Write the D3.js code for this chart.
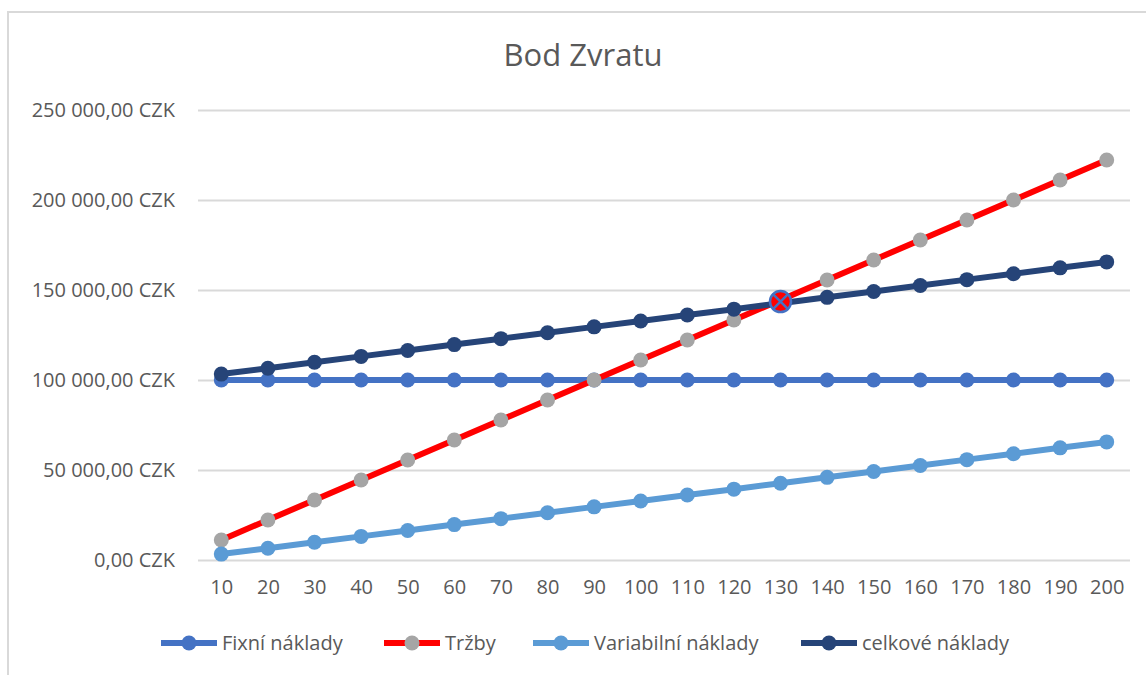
<!DOCTYPE html>
<html>
<head>
<meta charset="utf-8">
<script src="https://cdn.jsdelivr.net/npm/d3@7"></script>
<style>
  body { margin: 0; background: white; }
  text { font-family: "Open Sans", sans-serif; fill: #595959; }
</style>
</head>
<body>
<svg id="chart" width="1146" height="675"></svg>
<script>
// categories (quantity)
var categories = [10,20,30,40,50,60,70,80,90,100,110,120,130,140,150,160,170,180,190,200];

// series values
var fixni = [100000,100000,100000,100000,100000,100000,100000,100000,100000,100000,
             100000,100000,100000,100000,100000,100000,100000,100000,100000,100000];
var trzby = [11111,22222,33333,44444,55556,66667,77778,88889,100000,111111,
             122222,133333,144444,155556,166667,177778,188889,200000,211111,222222];
var variabilni = [3280,6560,9840,13120,16400,19680,22960,26240,29520,32800,
                  36080,39360,42640,45920,49200,52480,55760,59040,62320,65600];
var celkove = [103280,106560,109840,113120,116400,119680,122960,126240,129520,132800,
               136080,139360,142640,145920,149200,152480,155760,159040,162320,165600];

var yTicks = [0,50000,100000,150000,200000,250000];
var breakEvenAt = 130;

var series = [
  {name: "Fixní náklady", values: fixni, line: "#4472C4", marker: "#4472C4"},
  {name: "Tržby", values: trzby, line: "#FF0000", marker: "#A5A5A5"},
  {name: "Variabilní náklady", values: variabilni, line: "#5B9BD5", marker: "#5B9BD5"},
  {name: "celkové náklady", values: celkove, line: "#264478", marker: "#264478"}
];

var svg = d3.select("#chart");

// chart border (Excel chart area)
svg.append("path")
  .attr("d", "M8,675 V12 H1146")
  .attr("fill", "none")
  .attr("stroke", "#D9D9D9")
  .attr("stroke-width", 2);

var x = d3.scalePoint().domain(categories).range([198, 1130]).padding(0.5);
var y = d3.scaleLinear().domain([0, 250000]).range([560, 110]);

var cz = d3.formatLocale({decimal: ",", thousands: " ", grouping: [3], currency: ["", " CZK"]});
var fmt = cz.format("$,.2f");

// y axis with gridlines
var yAxis = svg.append("g")
  .attr("transform", "translate(198,0)")
  .call(d3.axisLeft(y).tickValues(yTicks).tickFormat(fmt).tickSize(-932).tickPadding(23));
yAxis.select(".domain").remove();
yAxis.selectAll(".tick line").attr("stroke", "#D9D9D9").attr("stroke-width", 2);
yAxis.selectAll(".tick text").style("font-size", "20px").style("fill", "#595959")
  .style("font-family", "Open Sans");

// x axis
var xAxis = svg.append("g")
  .attr("transform", "translate(0,560)")
  .call(d3.axisBottom(x).tickSize(0).tickPadding(20));
xAxis.select(".domain").remove();
xAxis.selectAll(".tick text").style("font-size", "20px").style("fill", "#595959")
  .style("font-family", "Open Sans");

// title
svg.append("text")
  .attr("x", 583).attr("y", 66)
  .attr("text-anchor", "middle")
  .style("font-size", "31px")
  .text("Bod Zvratu");

var line = d3.line()
  .x(function(d, i) { return x(categories[i]); })
  .y(function(d) { return y(d); });

series.forEach(function(s) {
  var g = svg.append("g");
  g.append("path")
    .attr("d", line(s.values))
    .attr("fill", "none")
    .attr("stroke", s.line)
    .attr("stroke-width", 6)
    .attr("stroke-linejoin", "round");
  g.selectAll("circle").data(s.values).enter().append("circle")
    .attr("cx", function(d, i) { return x(categories[i]); })
    .attr("cy", function(d) { return y(d); })
    .attr("r", 7.5)
    .attr("fill", s.marker);
});

// break-even marker
var bi = categories.indexOf(breakEvenAt);
var bx = x(breakEvenAt), by = y((trzby[bi] + celkove[bi]) / 2);
var be = svg.append("g").attr("transform", "translate(" + bx + "," + by + ")");
be.append("circle").attr("r", 10.5).attr("fill", "#FF0000")
  .attr("stroke", "#4472C4").attr("stroke-width", 2.5);
be.append("path").attr("d", "M-7,-7L7,7M7,-7L-7,7")
  .attr("stroke", "#4472C4").attr("stroke-width", 2.5);

// legend
var legendX = [161, 384, 533, 801];
var legend = svg.append("g").attr("transform", "translate(0,643)");
series.forEach(function(s, i) {
  var lg = legend.append("g").attr("transform", "translate(" + legendX[i] + ",0)");
  lg.append("line").attr("x1", 0).attr("x2", 56)
    .attr("stroke", s.line).attr("stroke-width", 6);
  lg.append("circle").attr("cx", 28).attr("r", 7.5).attr("fill", s.marker);
  lg.append("text").attr("x", 61).attr("dy", "0.35em")
    .style("font-size", "20px")
    .text(s.name);
});
</script>
</body>
</html>
